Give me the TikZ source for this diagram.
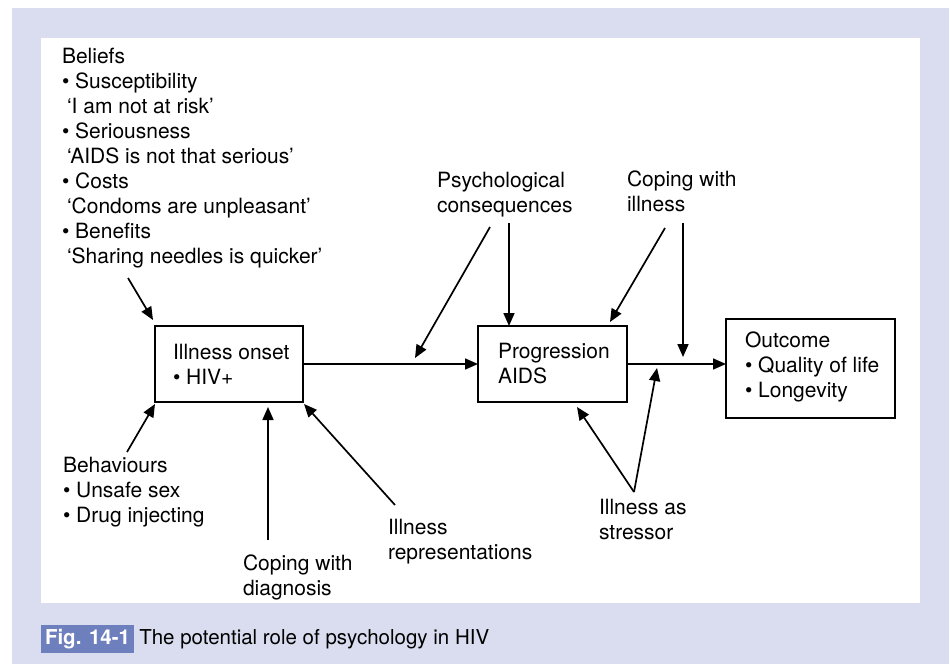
\documentclass[tikz,border=0pt]{standalone}
\usepackage{fontspec}
\setmainfont{TeX Gyre Heros}
\usetikzlibrary{arrows.meta,calc}
\definecolor{lav}{HTML}{DADDEF}
\definecolor{figblue}{HTML}{6E7FBE}
\begin{document}
\begin{tikzpicture}[x=1pt,y=-1pt,
  txt/.style={anchor=north west, align=left, inner sep=0pt, outer sep=0pt,
              font=\fontsize{21}{25}\selectfont},
  box/.style={draw, line width=1.8pt, inner sep=0pt, outer sep=0pt},
  arr/.style={line width=1.7pt, -{Triangle[length=13pt,width=11pt]}},
]
\useasboundingbox (0,0) rectangle (950,664);
\fill[white] (0,0) rectangle (950,664);
\fill[lav] (12,8) rectangle (949,664);
\fill[white] (41,38) rectangle (920,603);

% text blocks
\node[txt] (beliefs) at (62,48.5) {Beliefs\\
\textbullet{} Susceptibility\\
\hspace*{5pt}‘I am not at risk’\\
\textbullet{} Seriousness\\
\hspace*{5pt}‘AIDS is not that serious’\\
\textbullet{} Costs\\
\hspace*{5pt}‘Condoms are unpleasant’\\
\textbullet{} Benefits\\
\hspace*{5pt}‘Sharing needles is quicker’};
\node[txt] (psych) at (437,172.5) {Psychological\\consequences};
\node[txt] (copill) at (627,170.5) {Coping with\\illness};
\node[txt] (behav) at (63,457.5) {Behaviours\\\textbullet{} Unsafe sex\\\textbullet{} Drug injecting};
\node[txt] (copdiag) at (243,554.5) {Coping with\\diagnosis};
\node[txt] (illrep) at (388,519.5) {Illness\\representations};
\node[txt] (stress) at (599,499.5) {Illness as\\stressor};

% boxes
\node[box, minimum width=148pt, minimum height=76pt] (onset) at (229,364) {};
\node[box, minimum width=149pt, minimum height=76pt] (prog) at (552.5,364) {};
\node[box, minimum width=169pt, minimum height=99pt] (outc) at (810.5,368.5) {};
\node[txt, anchor=west] (onsettxt) at ([xshift=18pt]onset.west) {Illness onset\\\textbullet{} HIV+};
\node[txt, anchor=west] (progtxt) at ([xshift=20pt]prog.west) {Progression\\AIDS};
\node[txt, anchor=west] (outctxt) at ([xshift=19pt,yshift=2pt]outc.west) {Outcome\\\textbullet{} Quality of life\\\textbullet{} Longevity};

% free ends
\coordinate (b1) at (128,278);
\coordinate (b2) at (153,320);
\coordinate (h1) at (127,452);
\coordinate (h2) at (155,404);
\coordinate (d1) at (268,540);
\coordinate (d2) at (268,407);
\coordinate (r1) at (395,505);
\coordinate (r2) at (304,404);
\coordinate (p1) at (490,227);
\coordinate (p2) at (415,358);
\coordinate (p3) at (509,223);
\coordinate (c1) at (665,228);
\coordinate (c2) at (610,322);
\coordinate (c3) at (683,223);
\coordinate (c4) at (683,357);
\coordinate (s0) at (634,492);
\coordinate (s1) at (577,407);
\coordinate (s2) at (657,368);

\draw[arr] (b1) -- (b2);
\draw[arr] (h1) -- (h2);
\draw[arr] (d1) -- (d2);
\draw[arr] (r1) -- (r2);
\draw[arr] (onset.east) -- (prog.west);
\draw[arr] (p1) -- (p2);
\draw[arr] (p3) -- (prog.north -| p3);
\draw[arr] (c1) -- (c2);
\draw[arr] (c3) -- (c4);
\draw[arr] (prog.east) -- (prog.east -| outc.west);
\draw[arr] (s0) -- (s1);
\draw[arr] (s0) -- (s2);

% caption
\node[fill=figblue, text=white, font=\fontsize{20.5}{24}\selectfont\bfseries,
      inner xsep=4pt, minimum height=28pt, anchor=west, outer sep=0pt] (figlbl) at (41,639) {Fig. 14-1};
\node[anchor=base west, inner xsep=5pt, font=\fontsize{20.5}{24}\selectfont] (captxt)
  at (figlbl.base east) {The potential role of psychology in HIV};
\end{tikzpicture}
\end{document}
